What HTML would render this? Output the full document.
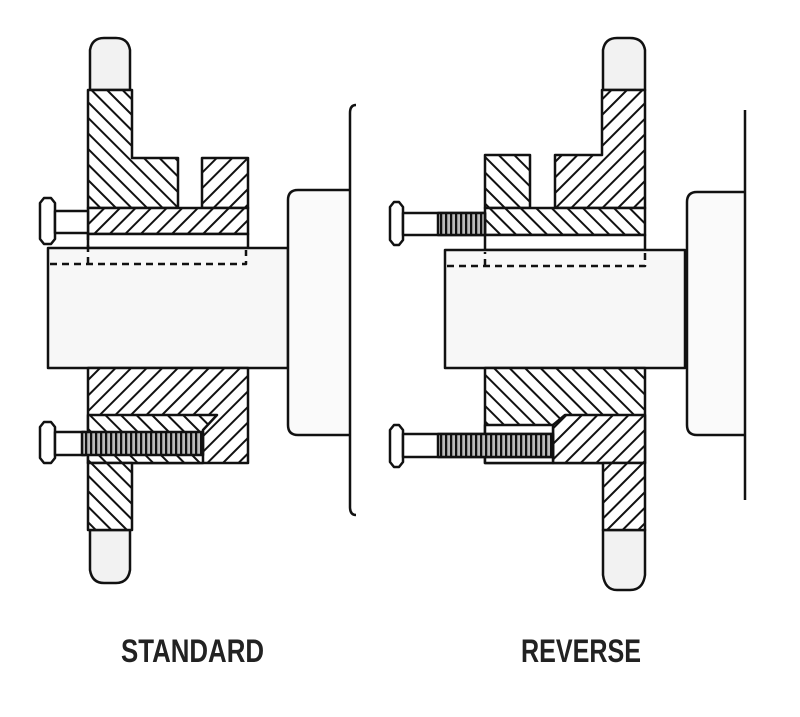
<!DOCTYPE html>
<html><head><meta charset="utf-8"><style>
html,body{margin:0;padding:0;background:#fff;}
svg{display:block;}
</style></head><body>
<svg width="800" height="717" viewBox="0 0 800 717" xmlns="http://www.w3.org/2000/svg">
<defs>
<pattern id="hf" patternUnits="userSpaceOnUse" width="11" height="11" patternTransform="rotate(45)"><rect width="11" height="11" fill="#fff"/><line x1="0" y1="0" x2="0" y2="11" stroke="#111" stroke-width="4"/></pattern>
<pattern id="hb" patternUnits="userSpaceOnUse" width="11" height="11" patternTransform="rotate(-45)"><rect width="11" height="11" fill="#fff"/><line x1="0" y1="0" x2="0" y2="11" stroke="#111" stroke-width="4"/></pattern>
<pattern id="th" patternUnits="userSpaceOnUse" width="5" height="10"><rect width="5" height="10" fill="#bbb"/><line x1="1" y1="0" x2="1" y2="10" stroke="#111" stroke-width="2.5"/></pattern>
</defs>
<g stroke="#111" stroke-width="2.5" fill="none" stroke-linejoin="round">
<!-- ===== STANDARD ===== -->
<path d="M90 90 L90 50 Q92 38 104 38 L116 38 Q128 38 130 50 L130 90 Z" fill="#f2f2f2"/>
<path d="M90 530 L90 570 Q92 583 104 583 L116 583 Q128 583 130 570 L130 530 Z" fill="#f2f2f2"/>
<path d="M88 90 L132 90 L132 158 L178 158 L178 208 L88 208 Z" fill="url(#hb)"/>
<path d="M202 158 L248 158 L248 208 L202 208 Z" fill="url(#hf)"/>
<rect x="88" y="208" width="160" height="26" fill="url(#hf)"/>
<rect x="88" y="234" width="160" height="14" fill="#fff"/>
<rect x="48" y="248" width="240" height="120" fill="#f7f7f7"/>
<path d="M50 264 L246 264 L246 250 M88 264 L88 234" stroke-dasharray="7 5"/>
<path d="M88 368 L248 368 L248 463 L88 463 Z" fill="url(#hf)"/>
<path d="M88 415 L217 415 L203 430 L203 463 L88 463 Z" fill="url(#hb)"/>
<rect x="88" y="463" width="44" height="67" fill="url(#hb)"/>
<path d="M40 203 L44 198 L51 198 L55 203 L55 239 L51 244 L44 244 L40 239 Z" fill="#fff"/>
<rect x="55" y="211" width="33" height="22" fill="#fff"/>
<path d="M40 427 L44 422 L51 422 L55 427 L55 458 L51 463 L44 463 L40 458 Z" fill="#fff"/>
<rect x="55" y="432" width="30" height="23" fill="#fff"/>
<rect x="82" y="432" width="121" height="23" fill="url(#th)"/>
<path d="M350 190 L298 190 Q288 190 288 200 L288 425 Q288 435 298 435 L350 435" fill="#fafafa"/>
<path d="M356 105 Q350 105 350 113 L350 507 Q350 515 356 515"/>
<!-- ===== REVERSE ===== -->
<path d="M603 90 L603 50 Q605 38 617 38 L630 38 Q643 38 645 50 L645 90 Z" fill="#f2f2f2"/>
<path d="M603 530 L603 575 Q605 590 617 590 L630 590 Q643 590 645 575 L645 530 Z" fill="#f2f2f2"/>
<rect x="485" y="155" width="45" height="53" fill="url(#hb)"/>
<path d="M555 155 L602 155 L602 90 L645 90 L645 208 L555 208 Z" fill="url(#hf)"/>
<rect x="485" y="208" width="160" height="27" fill="url(#hb)"/>
<rect x="485" y="235" width="160" height="15" fill="#fff"/>
<rect x="445" y="250" width="240" height="118" fill="#f7f7f7"/>
<path d="M447 266 L645 266 L645 252 M485 266 L485 252" stroke-dasharray="7 5"/>
<rect x="485" y="368" width="160" height="95" fill="url(#hb)"/>
<path d="M553 425 L565 415 L645 415 L645 463 L553 463 Z" fill="url(#hf)"/>
<path d="M485 425 L553 425 L553 463 L485 463 Z" fill="#fff"/>
<rect x="603" y="463" width="42" height="67" fill="url(#hf)"/>
<path d="M390 207 L394 202 L399 202 L403 207 L403 240 L399 245 L394 245 L390 240 Z" fill="#fff"/>
<rect x="403" y="213" width="82" height="22" fill="#fff"/>
<rect x="438" y="213" width="47" height="22" fill="url(#th)"/>
<path d="M390 430 L394 425 L399 425 L403 430 L403 462 L399 467 L394 467 L390 462 Z" fill="#fff"/>
<rect x="403" y="434" width="150" height="23" fill="#fff"/>
<rect x="438" y="434" width="115" height="23" fill="url(#th)"/>
<path d="M745 192 L697 192 Q687 192 687 202 L687 425 Q687 435 697 435 L745 435" fill="#fafafa"/>
<line x1="745" y1="110" x2="745" y2="500"/>
</g>
<g font-family="'Liberation Sans Narrow','Liberation Sans',sans-serif" font-weight="bold" font-size="32" fill="#222">
<text x="121" y="662" textLength="143" lengthAdjust="spacingAndGlyphs">STANDARD</text>
<text x="521" y="662" textLength="120" lengthAdjust="spacingAndGlyphs">REVERSE</text>
</g>
</svg>
</body></html>
